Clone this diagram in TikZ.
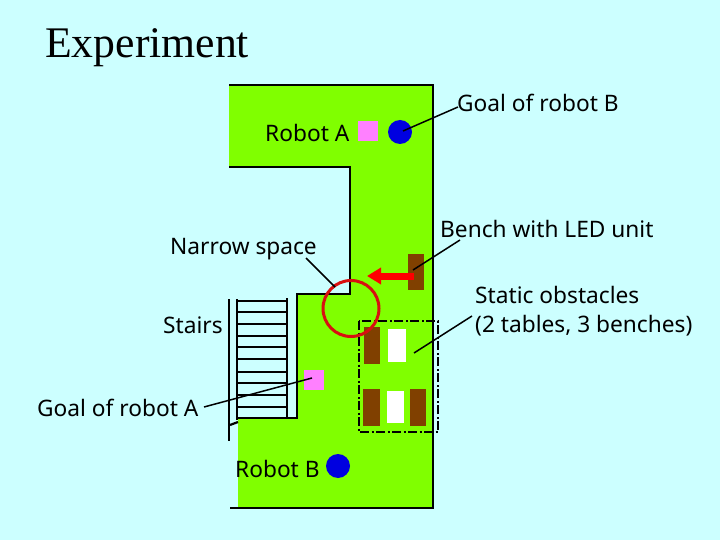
\documentclass[tikz,border=0pt]{standalone}
\usepackage{fontspec}
\usetikzlibrary{arrows.meta}
\setmainfont{Noto Sans}
\newfontfamily\titlefont{Liberation Serif}
\definecolor{skybg}{HTML}{CCFFFF}
\definecolor{floorgreen}{HTML}{80FF00}
\definecolor{benchbrown}{HTML}{804000}
\definecolor{goalpink}{HTML}{FF80FF}
\definecolor{robotblue}{HTML}{0000E0}
\definecolor{ringred}{HTML}{D81010}
\tikzset{
  txtlabel/.style={font=\fontsize{22.7}{29}\selectfont,inner sep=0pt,anchor=west},
  leader/.style={line width=1.5pt,black},
  wall/.style={line width=2.2pt,black},
  bench/.style={fill=benchbrown,draw=none},
  tablebox/.style={fill=white,draw=none},
  goalbox/.style={fill=goalpink,draw=none},
  robot/.style={fill=robotblue,draw=none,circle,minimum size=24pt,inner sep=0pt}
}
\begin{document}
\begin{tikzpicture}[x=1pt,y=-1pt]
\useasboundingbox[fill=skybg] (0,0) rectangle (720,540);
% floor
\fill[floorgreen] (229,85) -- (433,85) -- (433,508) -- (238,508) -- (238,418) -- (297,418) -- (297,294) -- (350,294) -- (350,167) -- (229,167) -- cycle;
\draw[wall] (229,85) -- (433,85) -- (433,508) -- (230,508);
\draw[wall] (229,167) -- (350,167) -- (350,294) -- (297,294) -- (297,418) -- (237,418);
% stairs
\foreach \y in {301,312,324,336,347,359,372,383,395,407} \draw[wall] (237,\y) -- (287,\y);
\draw[wall] (237,299) -- (237,420);
\draw[wall] (287,298) -- (287,418);
\draw[wall] (229,299) -- (229,441);
\draw[wall] (230,425) -- (238,422);
% benches and tables
\foreach \xa/\ya/\xb/\yb in {408/254/424/290,364/327/380/364,363/389/380/426,410/389/426/426} \fill[bench] (\xa,\ya) rectangle (\xb,\yb);
\foreach \xa/\ya/\xb/\yb in {388/329/406/362,387/391/404/423} \fill[tablebox] (\xa,\ya) rectangle (\xb,\yb);
\draw[line width=1.4pt,dash pattern=on 9pt off 2.5pt on 2pt off 2.5pt] (359,321) rectangle (438,432);
% goals and robots
\fill[goalbox] (358,121) rectangle (378,141);
\fill[goalbox] (304,370) rectangle (324,390);
\node[robot] (robotgoalb) at (400,132) {};
\node[robot] (robotbstart) at (338,466) {};
% narrow space
\node[circle,draw=ringred,line width=3pt,minimum size=56pt,inner sep=0pt] (ring) at (351,308.5) {};
\coordinate (arrowtail) at (414,276);
\coordinate (arrowhead) at (367,276);
\draw[line width=7pt,red,-{Triangle[length=14pt,width=16pt]}] (arrowtail) -- (arrowhead);
% labels
\node[font=\titlefont\fontsize{43.7}{50}\selectfont,inner sep=0pt,anchor=base west] (title) at (45,58) {Experiment};
\node[txtlabel] (goalb) at (457,103) {Goal of robot B};
\node[txtlabel] (robota) at (265,133) {Robot A};
\node[txtlabel] (narrow) at (170,249) {Narrow space};
\node[txtlabel] (benchled) at (440,229) {Bench with LED unit};
\node[txtlabel,align=left] (static) at (475,311.5) {Static obstacles\\(2 tables, 3 benches)};
\node[txtlabel] (stairs) at (163,325) {Stairs};
\node[txtlabel] (goala) at (37,408) {Goal of robot A};
\node[txtlabel] (robotb) at (235,469) {Robot B};
% leaders
\coordinate (goalbend) at (458,107);
\coordinate (goalbtip) at (403,131);
\coordinate (narrowend) at (306,258);
\coordinate (narrowtip) at (335,287);
\coordinate (benchend) at (460,240);
\coordinate (benchtip) at (413,270);
\coordinate (staticend) at (472,316);
\coordinate (statictip) at (414,353);
\coordinate (goalaend) at (204,407);
\coordinate (goalatip) at (312,378);
\draw[leader] (goalbend) -- (goalbtip);
\draw[leader] (narrowend) -- (narrowtip);
\draw[leader] (benchend) -- (benchtip);
\draw[leader] (staticend) -- (statictip);
\draw[leader] (goalaend) -- (goalatip);
\end{tikzpicture}
\end{document}
